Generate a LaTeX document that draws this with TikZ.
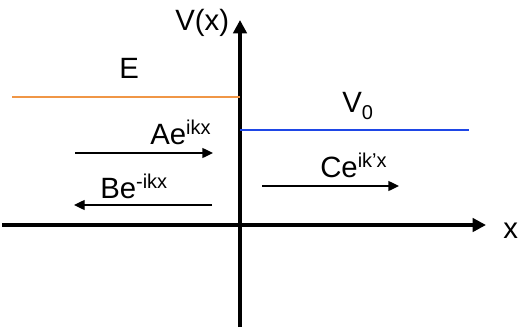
\documentclass[tikz,border=0pt]{standalone}
\usepackage{fontspec}
\setmainfont{Liberation Sans}
\usetikzlibrary{arrows.meta}
\definecolor{eorange}{RGB}{240,150,70}
\definecolor{vblue}{RGB}{30,70,230}
\newcommand{\expo}[1]{\raisebox{7.5pt}{\fontsize{15}{17}\selectfont #1}}
\newcommand{\subs}[1]{\raisebox{-5.5pt}{\fontsize{15}{17}\selectfont #1}}

\begin{document}
\begin{tikzpicture}[x=0.75pt, y=0.75pt,
  axis/.style={line width=3pt, -{Triangle[length=10pt, width=10pt]}},
  wave/.style={line width=1pt, -{Triangle[length=8pt, width=7.5pt]}},
  level/.style={line width=1.1pt},
  lbl/.style={font=\fontsize{22}{26}\selectfont, inner sep=0pt, anchor=base west}
]
  \useasboundingbox (0,0) rectangle (520,329);

  % axes
  \coordinate (xl) at (2,104);
  \coordinate (xr) at (486,104);
  \coordinate (yb) at (240,2);
  \coordinate (yt) at (240,309);
  \draw[axis] (xl) -- (xr);
  \draw[axis] (yb) -- (yt);
  \node[lbl] (xlab) at (503,91) {x};
  \node[lbl] (vlab) at (175,298) {V(x)};

  % energy and step
  \coordinate (el) at (12,232);
  \coordinate (er) at (240,232);
  \coordinate (vl) at (240,199);
  \coordinate (vr) at (469,199);
  \draw[level, eorange] (el) -- (er);
  \draw[level, vblue] (vl) -- (vr);
  \node[lbl] (elab) at (119,251) {E};
  \node[lbl] (v0lab) at (342,217) {V\subs{0}};

  % waves
  \coordinate (a1) at (75,176);
  \coordinate (a2) at (213,176);
  \coordinate (b1) at (212,124);
  \coordinate (b2) at (74,124);
  \coordinate (c1) at (262,143);
  \coordinate (c2) at (399,143);
  \draw[wave] (a1) -- (a2);
  \draw[wave] (b1) -- (b2);
  \draw[wave] (c1) -- (c2);
  \node[lbl] (alab) at (150,185) {Ae\expo{ikx}};
  \node[lbl] (blab) at (100,131) {Be\expo{-ikx}};
  \node[lbl] (clab) at (320,152) {Ce\expo{ik’x}};
\end{tikzpicture}
\end{document}
